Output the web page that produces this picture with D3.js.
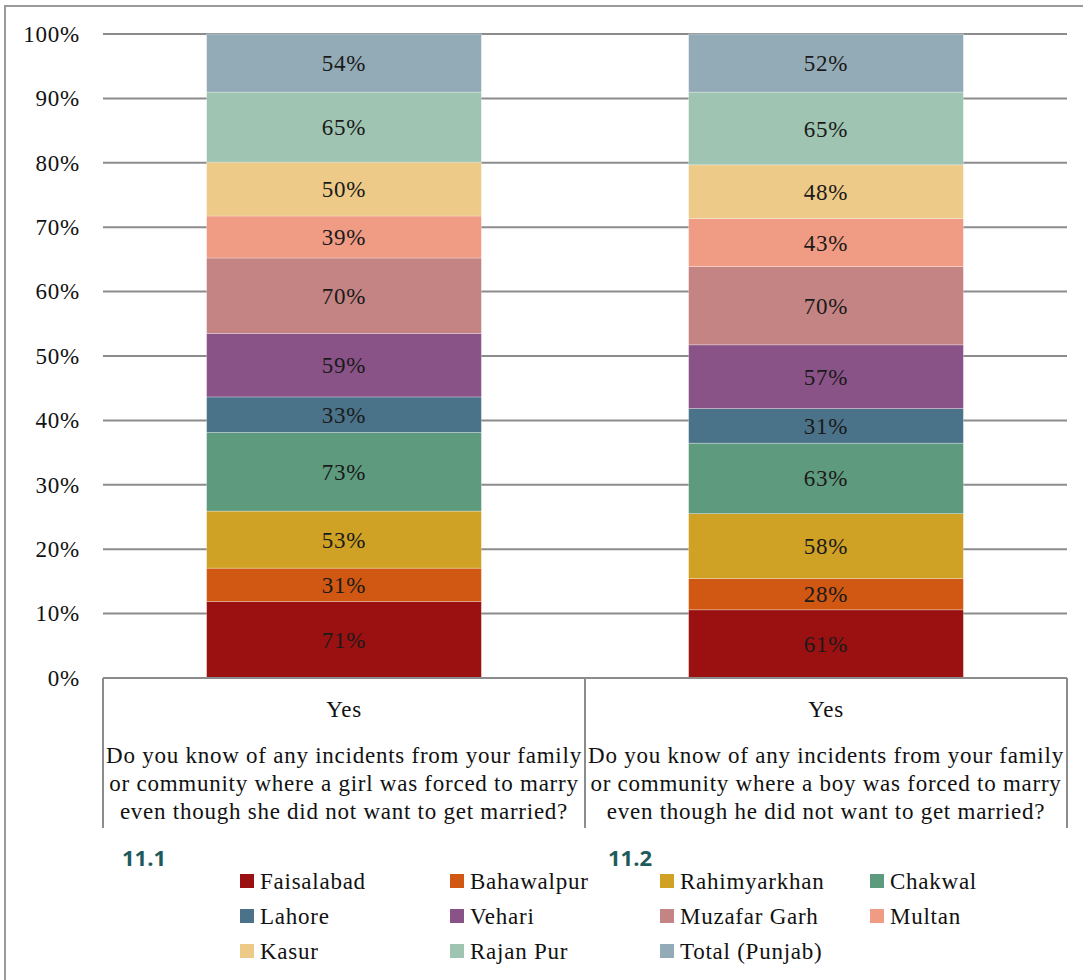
<!DOCTYPE html>
<html><head><meta charset="utf-8">
<script src="https://cdn.jsdelivr.net/npm/d3@7"></script>
<style>body{margin:0;background:#fff}svg{display:block}</style>
</head><body>
<svg id="c" width="1083" height="980"></svg>
<script>
const categories = ["Yes", "Yes"];
const questions = [
  ["Do you know of any incidents from your family", "or community where a girl was forced to marry", "even though she did not want to get married?"],
  ["Do you know of any incidents from your family", "or community where a boy was forced to marry", "even though he did not want to get married?"]
];
const panelLabels = ["11.1", "11.2"];
const series = ["Faisalabad","Bahawalpur","Rahimyarkhan","Chakwal","Lahore","Vehari","Muzafar Garh","Multan","Kasur","Rajan Pur","Total (Punjab)"];
const girlValues = [71,31,53,73,33,59,70,39,50,65,54];
const boyValues  = [61,28,58,63,31,57,70,43,48,65,52];
const colors = ["#9b1111","#d05812","#cfa124","#5e9a7e","#4a7389","#8a5388","#c58484","#f09b84","#edca87","#9fc4b1","#93abb6"];
const yTicks = [0,0.1,0.2,0.3,0.4,0.5,0.6,0.7,0.8,0.9,1];

const svg = d3.select("#c");
const font = "'Liberation Serif', 'Times New Roman', serif";
const FS = 23, LS = "0.75px";
const L = 103, R = 1067, T = 34, B = 678;

// outer frame
svg.append("rect").attr("x",5).attr("y",6).attr("width",1090).attr("height",990)
  .attr("fill","none").attr("stroke","#9a9a9a").attr("stroke-width",2);

const x = d3.scaleBand().domain([0,1]).range([L,R]).paddingInner(0.43).paddingOuter(0.215);
const y = d3.scaleLinear().domain([0,1]).range([B,T]);
const color = d3.scaleOrdinal().domain(series).range(colors);

function txt(sel){ return sel.attr("font-family",font).attr("font-size",FS).attr("letter-spacing",LS).attr("fill","#111"); }

// gridlines
svg.append("g").selectAll("line").data(yTicks.slice(1)).join("line")
  .attr("x1",L).attr("x2",R).attr("y1",d=>y(d)).attr("y2",d=>y(d))
  .attr("stroke","#8c8c8c").attr("stroke-width",2);

// y labels
const yAxis = d3.axisLeft(y).tickValues(yTicks).tickFormat(d3.format(".0%")).tickSize(0).tickPadding(23);
const ya = svg.append("g").attr("transform",`translate(${L},0)`).call(yAxis);
ya.select(".domain").remove();
txt(ya.selectAll("text"));

// data stacking
const rows = [girlValues, boyValues].map((vals,i)=>{
  const o = {idx:i}; series.forEach((s,j)=>o[s]=vals[j]); return o;
});
const stack = d3.stack().keys(series).offset(d3.stackOffsetExpand);
const stacked = stack(rows);

const g = svg.append("g");
stacked.forEach(layer=>{
  g.selectAll(null).data(layer).join("rect")
    .attr("x",d=>x(d.data.idx)).attr("width",x.bandwidth())
    .attr("y",d=>y(d[1])).attr("height",d=>y(d[0])-y(d[1]))
    .attr("fill",color(layer.key))
    .attr("stroke","rgba(255,255,255,0.35)").attr("stroke-width",0.8);
  txt(g.selectAll(null).data(layer).join("text"))
    .attr("x",d=>x(d.data.idx)+x.bandwidth()/2)
    .attr("y",d=>(y(d[0])+y(d[1]))/2)
    .attr("dy","0.35em").attr("text-anchor","middle").attr("fill","#1a1a1a")
    .text(d=>d.data[layer.key]+"%");
});

// baseline & category table
svg.append("line").attr("x1",L).attr("x2",R).attr("y1",B).attr("y2",B).attr("stroke","#8c8c8c").attr("stroke-width",2);
const step = (R-L)/2;
[L, L+step, R].forEach(xx=>{
  svg.append("line").attr("x1",xx).attr("x2",xx).attr("y1",B).attr("y2",828)
    .attr("stroke","#8c8c8c").attr("stroke-width",2);
});
categories.forEach((c,i)=>{
  const cx = L + step*i + step/2;
  txt(svg.append("text")).attr("x",cx).attr("y",709).attr("dy","0.35em").attr("text-anchor","middle").text(c);
  questions[i].forEach((ln,k)=>{
    txt(svg.append("text")).attr("x",cx).attr("y",755+k*28).attr("dy","0.35em").attr("text-anchor","middle").text(ln);
  });
  svg.append("text").attr("x",[122,608][i]).attr("y",866)
    .attr("font-family","'Open Sans', 'Noto Sans', sans-serif").attr("font-weight","bold")
    .attr("font-size",22).attr("fill","#1e5a5c").text(panelLabels[i]);
});

// legend
const colX = [240,450,660,870], rowY = [881,916,951];
const lg = svg.append("g");
series.forEach((s,i)=>{
  const cx = colX[i%4], cy = rowY[Math.floor(i/4)];
  lg.append("rect").attr("x",cx).attr("y",cy-7).attr("width",14).attr("height",14).attr("fill",color(s));
  txt(lg.append("text")).attr("x",cx+20).attr("y",cy).attr("dy","0.35em").text(s);
});
</script>
</body></html>
